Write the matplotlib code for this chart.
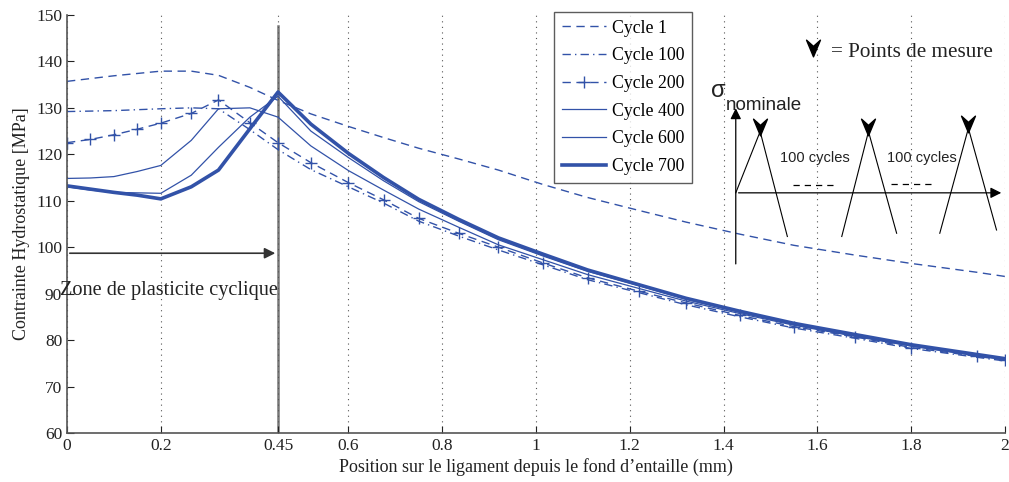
import matplotlib
matplotlib.use("Agg")
import matplotlib.pyplot as plt
from matplotlib.path import Path
import numpy as np

plt.rcParams['font.family'] = ['Liberation Serif', 'DejaVu Serif']

# ---- data ----
x_mesh = [0, 0.05, 0.1, 0.15, 0.2, 0.265, 0.323, 0.39, 0.45, 0.52, 0.6, 0.675,
          0.75, 0.835, 0.92, 1.015, 1.11, 1.22, 1.32, 1.435, 1.55, 1.68, 1.8, 1.94, 2.0]

cycle1 = [135.7, 136.3, 136.9, 137.4, 137.9, 137.9, 137.0, 134.4, 131.6, 128.7, 126.0, 123.6,
          121.3, 119.0, 116.6, 113.5, 110.7, 107.9, 105.4, 102.8, 100.4, 98.3, 96.5, 94.6, 93.7]
cycle100 = [129.2, 129.3, 129.4, 129.6, 129.8, 130.0, 129.8, 125.3, 121.0, 116.7, 113.0, 109.5,
            105.6, 102.4, 99.4, 96.2, 93.0, 90.2, 87.6, 85.0, 82.6, 80.4, 78.2, 76.3, 75.5]
cycle200 = [122.5, 123.2, 124.2, 125.4, 126.7, 128.8, 131.7, 126.8, 122.5, 118.2, 113.9, 110.2,
            106.2, 103.0, 100.0, 96.6, 93.4, 90.5, 88.0, 85.3, 82.9, 80.7, 78.4, 76.5, 75.7]
cycle400 = [114.8, 114.9, 115.2, 116.3, 117.6, 123.0, 129.8, 130.0, 128.0, 121.8, 116.5, 112.3,
            108.2, 104.3, 100.5, 97.3, 94.1, 91.1, 88.4, 85.7, 83.2, 80.8, 78.7, 76.6, 75.8]
cycle600 = [113.0, 112.3, 111.8, 111.7, 111.6, 115.5, 121.5, 128.0, 132.5, 125.0, 119.3, 114.3,
            109.8, 105.6, 101.6, 98.1, 94.8, 91.7, 88.8, 86.0, 83.4, 81.0, 78.9, 76.8, 75.9]
cycle700 = [113.2, 112.5, 111.8, 111.2, 110.4, 113.0, 116.6, 125.5, 133.4, 126.5, 120.2, 115.0,
            110.3, 106.0, 102.0, 98.5, 95.1, 91.9, 89.0, 86.2, 83.6, 81.2, 79.0, 76.9, 76.0]

labels = ['Cycle 1', 'Cycle 100', 'Cycle 200', 'Cycle 400', 'Cycle 600', 'Cycle 700']
x_ticks = [0, 0.2, 0.45, 0.6, 0.8, 1, 1.2, 1.4, 1.6, 1.8, 2]
x_ticklabels = ['0', '0.2', '0.45', '0.6', '0.8', '1', '1.2', '1.4', '1.6', '1.8', '2']
y_ticks = [60, 70, 80, 90, 100, 110, 120, 130, 140, 150]

blue = '#3252a8'

fig = plt.figure(figsize=(10.09, 4.82), dpi=100)
ax = fig.add_axes([0.0664, 0.1017, 0.9296, 0.8673])

ax.plot(x_mesh, cycle1, color=blue, lw=1.0, ls=(0, (6, 4)), label=labels[0])
ax.plot(x_mesh, cycle100, color=blue, lw=1.0, ls=(0, (6, 3, 1, 3)), label=labels[1])
ax.plot(x_mesh, cycle200, color=blue, lw=1.0, ls=(0, (6, 4)), marker='+', ms=8,
        mew=1.0, label=labels[2])
ax.plot(x_mesh, cycle400, color=blue, lw=0.9, label=labels[3])
ax.plot(x_mesh, cycle600, color=blue, lw=0.9, label=labels[4])
ax.plot(x_mesh, cycle700, color=blue, lw=2.6, label=labels[5])

ax.set_xlim(0, 2)
ax.set_ylim(60, 150)
ax.set_xticks(x_ticks)
ax.set_xticklabels(x_ticklabels)
ax.set_yticks(y_ticks)
ax.tick_params(labelsize=12.5, direction='in', length=5, colors='#222222')
ax.xaxis.grid(True, ls=(0, (1, 4)), color='#555555', lw=0.8)
ax.spines['top'].set_visible(False)
ax.spines['right'].set_visible(False)
for s in ('left', 'bottom'):
    ax.spines[s].set_color('#555555')
    ax.spines[s].set_linewidth(1.2)

ax.set_xlabel("Position sur le ligament depuis le fond d\u2019entaille (mm)", fontsize=13,
              labelpad=3, color='#222222')
ax.set_ylabel("Contrainte Hydrostatique [MPa]", fontsize=13, labelpad=4, color='#222222')

# vertical line at 0.45 and plastic zone arrow
ax.plot([0.45, 0.45], [60, 147.6], color='#777777', lw=1.8, zorder=1)
ax.annotate('', xy=(0.45, 98.7), xytext=(0, 98.7),
            arrowprops=dict(arrowstyle='-|>', color='#333333', lw=1.2, mutation_scale=16))
ax.text(-0.015, 90.6, 'Zone de plasticite cyclique', fontsize=14.6, ha='left', va='center',
        color='#222222')

leg = ax.legend(loc='upper left', bbox_to_anchor=(0.519, 1.008), fontsize=12.8,
                frameon=True, fancybox=False, edgecolor='#333333', handlelength=2.5,
                borderpad=0.45, labelspacing=0.6, handletextpad=0.3, borderaxespad=0)
leg.get_frame().set_linewidth(1.0)

# inset schematic
k = 'black'
vmark = Path([(-0.5, 0.6), (0, -0.6), (0.5, 0.6), (0, 0.15), (-0.5, 0.6)],
             [Path.MOVETO, Path.LINETO, Path.LINETO, Path.LINETO, Path.CLOSEPOLY])
ax.annotate('', xy=(1.426, 130.5), xytext=(1.426, 95.8),
            arrowprops=dict(arrowstyle='-|>', color=k, lw=0.9, mutation_scale=16))
ax.annotate('', xy=(1.998, 111.7), xytext=(1.426, 111.7),
            arrowprops=dict(arrowstyle='-|>', color=k, lw=0.9, mutation_scale=16))
ax.plot([1.426, 1.478, 1.536], [111.7, 124.9, 102.3], color=k, lw=0.8)
ax.plot([1.652, 1.709, 1.769], [102.3, 124.9, 103.0], color=k, lw=0.8)
ax.plot([1.861, 1.922, 1.982], [103.0, 125.6, 103.7], color=k, lw=0.8)
ax.plot([1.478, 1.709, 1.922], [125.8, 125.8, 126.5], ls='none', marker=vmark, ms=12,
        color=k)
ax.plot([1.591], [142.8], ls='none', marker=vmark, ms=12, color=k)
ax.text(1.628, 142.0, '= Points de mesure', fontsize=15.2, ha='left', va='center', color='#222222')
ax.plot([1.549, 1.641], [113.4, 113.4], color=k, lw=0.9, ls=(0, (5, 4)))
ax.plot([1.758, 1.853], [113.6, 113.6], color=k, lw=0.9, ls=(0, (5, 4)))
ax.text(1.595, 119.3, '100 cycles', fontsize=10.5, ha='center', va='center',
        family='Liberation Sans', color='#222222')
ax.text(1.823, 119.3, '100 cycles', fontsize=10.5, ha='center', va='center',
        family='Liberation Sans', color='#222222')
ax.text(1.373, 133.6, '\u03c3', fontsize=17, ha='left', va='center', family='Liberation Sans',
        color='#222222')
ax.text(1.405, 130.4, 'nominale', fontsize=13.5, ha='left', va='center', family='Liberation Sans',
        color='#222222')

fig.savefig('out.png', dpi=100)
